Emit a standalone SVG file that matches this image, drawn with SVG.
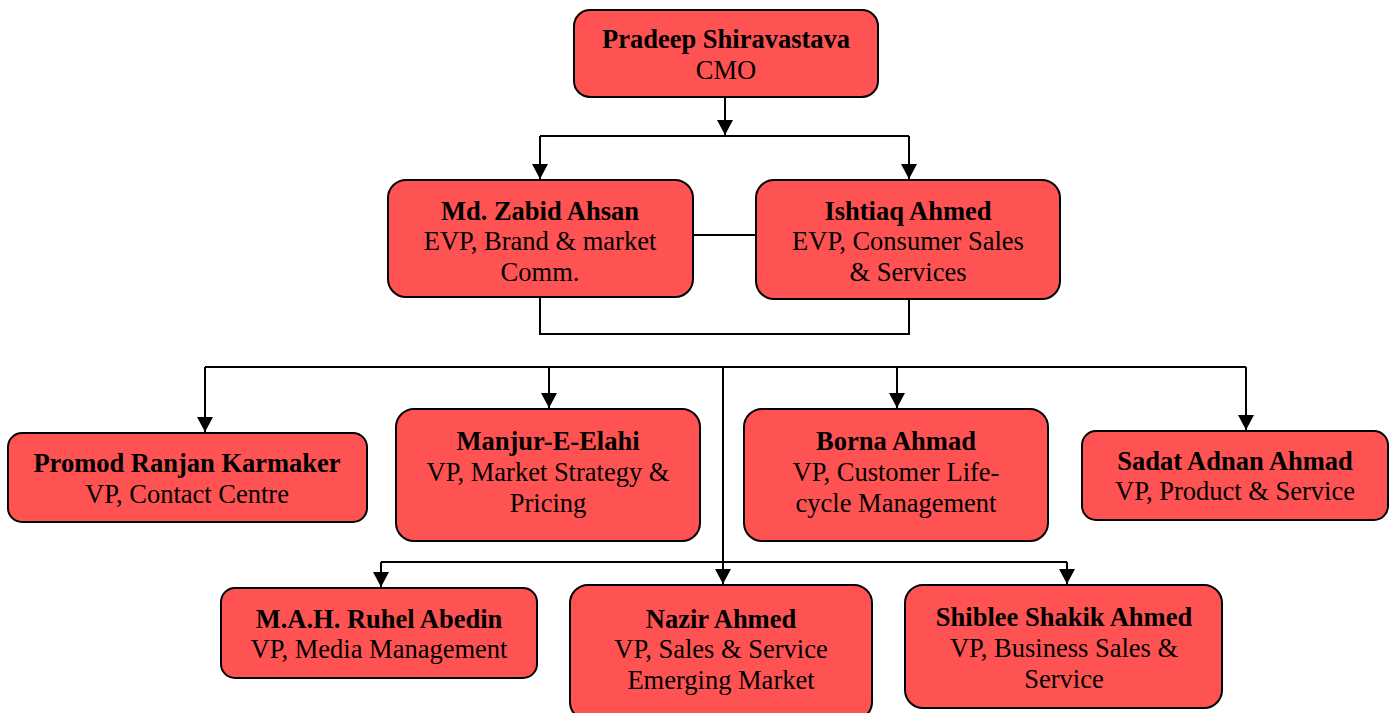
<svg xmlns="http://www.w3.org/2000/svg" width="1395" height="713" viewBox="0 0 1395 713">
<style>
.box{fill:#FF5252;stroke:#000;stroke-width:2}
.t{font-family:"Liberation Serif","Times New Roman",serif;font-size:26.5px;text-anchor:middle;fill:#000}
.b{font-weight:bold}
.c{fill:none;stroke:#000;stroke-width:2}
</style>
<defs>
<marker id="arr" markerWidth="15" markerHeight="16" refX="15" refY="8" orient="auto" markerUnits="userSpaceOnUse" viewBox="0 0 15 16">
<path d="M0,0 L15,8 L0,16 Z" fill="#000"/>
</marker>
</defs>
<rect width="1395" height="713" fill="#fff"/>
<g id="connectors">
<path class="c" d="M725,97 V135" marker-end="url(#arr)"/>
<path class="c" d="M540,136 H909"/>
<path class="c" d="M540,136 V179" marker-end="url(#arr)"/>
<path class="c" d="M909,136 V179" marker-end="url(#arr)"/>
<path class="c" d="M693,235 H756"/>
<path class="c" d="M540,298 V334 H909 V300"/>
<path class="c" d="M205,367 H1246"/>
<path class="c" d="M205,367 V432" marker-end="url(#arr)"/>
<path class="c" d="M549,367 V408" marker-end="url(#arr)"/>
<path class="c" d="M897,367 V408" marker-end="url(#arr)"/>
<path class="c" d="M1246,367 V430" marker-end="url(#arr)"/>
<path class="c" d="M723,367 V584" marker-end="url(#arr)"/>
<path class="c" d="M381,562 H1067"/>
<path class="c" d="M381,562 V587" marker-end="url(#arr)"/>
<path class="c" d="M1067,562 V584" marker-end="url(#arr)"/>
</g>
<g id="n-pradeep">
<rect class="box" x="574" y="10" width="304" height="87" rx="16"/>
<text class="t b" x="726" y="48">Pradeep Shiravastava</text>
<text class="t" x="726" y="79">CMO</text>
</g>
<g id="n-zabid">
<rect class="box" x="388" y="180" width="305" height="117" rx="18"/>
<text class="t b" x="540" y="220">Md. Zabid Ahsan</text>
<text class="t" x="540" y="250">EVP, Brand &amp; market</text>
<text class="t" x="540" y="281">Comm.</text>
</g>
<g id="n-ishtiaq">
<rect class="box" x="756" y="180" width="304" height="119" rx="18"/>
<text class="t b" x="908" y="220">Ishtiaq Ahmed</text>
<text class="t" x="908" y="250">EVP, Consumer Sales</text>
<text class="t" x="908" y="281">&amp; Services</text>
</g>
<g id="n-promod">
<rect class="box" x="8" y="433" width="359" height="89" rx="14"/>
<text class="t b" x="187" y="472">Promod Ranjan Karmaker</text>
<text class="t" x="187" y="503">VP, Contact Centre</text>
</g>
<g id="n-manjur">
<rect class="box" x="396" y="409" width="304" height="132" rx="18"/>
<text class="t b" x="548" y="450">Manjur-E-Elahi</text>
<text class="t" x="548" y="481">VP, Market Strategy &amp;</text>
<text class="t" x="548" y="512">Pricing</text>
</g>
<g id="n-borna">
<rect class="box" x="744" y="409" width="304" height="132" rx="18"/>
<text class="t b" x="896" y="450">Borna Ahmad</text>
<text class="t" x="896" y="481">VP, Customer Life-</text>
<text class="t" x="896" y="512">cycle Management</text>
</g>
<g id="n-sadat">
<rect class="box" x="1082" y="431" width="306" height="89" rx="14"/>
<text class="t b" x="1235" y="470">Sadat Adnan Ahmad</text>
<text class="t" x="1235" y="500">VP, Product &amp; Service</text>
</g>
<g id="n-ruhel">
<rect class="box" x="221" y="588" width="316" height="90" rx="14"/>
<text class="t b" x="379" y="628">M.A.H. Ruhel Abedin</text>
<text class="t" x="379" y="658">VP, Media Management</text>
</g>
<g id="n-nazir">
<rect class="box" x="570" y="585" width="302" height="135" rx="18"/>
<text class="t b" x="721" y="628">Nazir Ahmed</text>
<text class="t" x="721" y="658">VP, Sales &amp; Service</text>
<text class="t" x="721" y="689">Emerging Market</text>
</g>
<g id="n-shiblee">
<rect class="box" x="905" y="585" width="317" height="123" rx="18"/>
<text class="t b" x="1064" y="626">Shiblee Shakik Ahmed</text>
<text class="t" x="1064" y="657">VP, Business Sales &amp;</text>
<text class="t" x="1064" y="688">Service</text>
</g>
</svg>
